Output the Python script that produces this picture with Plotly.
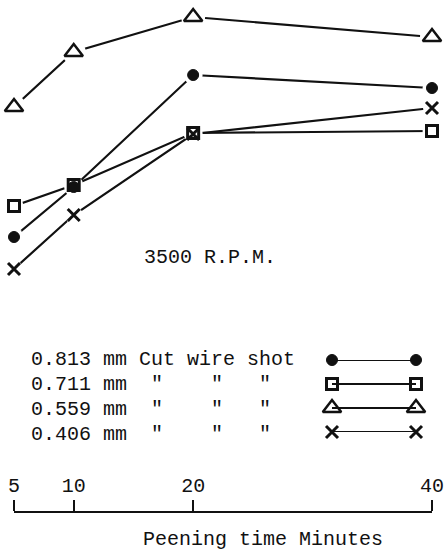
import plotly.graph_objects as go

# Peening time (minutes)
minutes = [5, 10, 20, 40]
# Relative values (no y scale printed; arbitrary units)
shot_0813 = [31.7, 36.7, 47.9, 46.6]
shot_0711 = [34.8, 36.9, 42.1, 42.3]
shot_0559 = [44.7, 50.2, 53.7, 51.7]
shot_0406 = [28.5, 33.9, 42.0, 44.6]
tick_vals = [5, 10, 20, 40]
legend_text = [
    "0.813 mm Cut wire shot",
    '0.711 mm  "    "   "',
    '0.559 mm  "    "   "',
    '0.406 mm  "    "   "',
]

FONT = "Liberation Mono"
INK = "#111111"

series = [
    (shot_0813, dict(symbol="circle", size=11, color=INK, line=dict(width=1, color=INK)), 19),
    (shot_0711, dict(symbol="square-open", size=11, color=INK, line=dict(width=3, color=INK)), 19),
    (shot_0559, dict(symbol="triangle-up-open", size=16, color=INK, line=dict(width=2.5, color=INK)), 24),
    (shot_0406, dict(symbol="x-thin-open", size=12, color=INK, line=dict(width=3, color=INK)), 18),
]

fig = go.Figure()
# lines
for ys, m, h in series:
    fig.add_trace(go.Scatter(x=minutes, y=ys, mode="lines", line=dict(color=INK, width=2.2),
                             showlegend=False, hoverinfo="skip", cliponaxis=False))
# white halos (gap between line and marker)
for ys, m, h in series:
    fig.add_trace(go.Scatter(x=minutes, y=ys, mode="markers",
                             marker=dict(symbol="circle", size=h, color="white"),
                             showlegend=False, hoverinfo="skip", cliponaxis=False))
# markers
for ys, m, h in series:
    fig.add_trace(go.Scatter(x=minutes, y=ys, mode="markers", marker=m,
                             showlegend=False, cliponaxis=False))

# key swatches
for i, (ys, m, h) in enumerate(series):
    fig.add_trace(go.Scatter(x=[0, 1], y=[i, i], mode="lines+markers", marker=m,
                             line=dict(color=INK, width=2), xaxis="x2", yaxis="y2",
                             showlegend=False, cliponaxis=False))

W, H = 447, 554
fig.update_layout(
    width=W, height=H, autosize=False,
    margin=dict(l=0, r=0, t=0, b=0),
    paper_bgcolor="white", plot_bgcolor="white",
    font=dict(family=FONT, size=20, color=INK),
    xaxis=dict(domain=[14 / W, 432 / W], range=[5, 40], tickvals=tick_vals,
               side="top", anchor="free", position=(H - 512) / H,
               showline=True, linecolor=INK, linewidth=2,
               ticks="outside", ticklen=11, tickwidth=2, tickcolor=INK,
               showgrid=False, zeroline=False, automargin=False,
               tickfont=dict(family=FONT, size=20, color=INK)),
    yaxis=dict(domain=[0, 1], range=[0, 55.4], visible=False),
    xaxis2=dict(domain=[332 / W, 416 / W], range=[0, 1], visible=False, anchor="y2"),
    yaxis2=dict(domain=[(H - 432) / H, (H - 360) / H], range=[3, 0], visible=False, anchor="x2"),
)

annotations = [
    dict(text="3500 R.P.M.", x=210 / W, y=(H - 257) / H, xanchor="center", yanchor="middle"),
    dict(text="Peening time Minutes", x=263 / W, y=(H - 539) / H, xanchor="center", yanchor="middle"),
]
row_y = [359, 384, 409, 434]
for t, yy in zip(legend_text, row_y):
    annotations.append(dict(text=t.replace(" ", "\u00a0"), x=29 / W, y=(H - yy) / H,
                            xanchor="left", yanchor="middle"))
for a in annotations:
    a.update(xref="paper", yref="paper", showarrow=False,
             font=dict(family=FONT, size=20, color=INK))
fig.update_layout(annotations=annotations)

fig.write_html("out.html")
